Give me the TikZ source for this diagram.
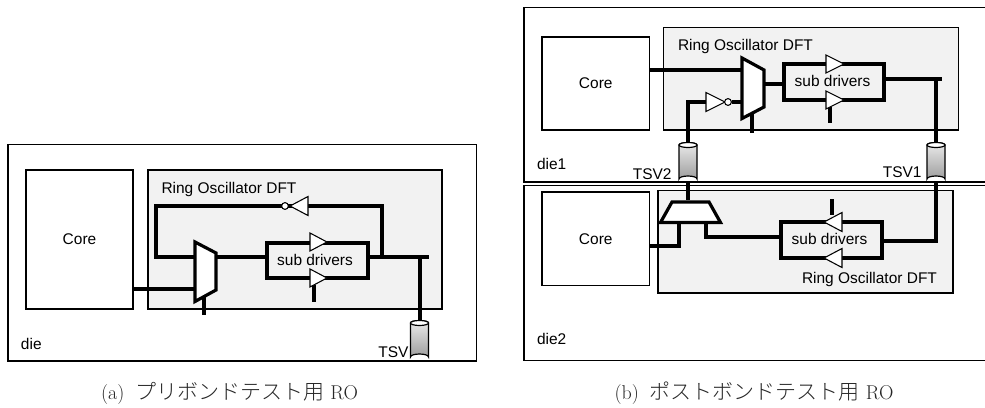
\documentclass[tikz,border=0pt]{standalone}
\usepackage{fontspec}
\setsansfont{Liberation Sans}
\newfontfamily\cjk{Noto Sans CJK JP Light}[Scale=1.05]
\usetikzlibrary{calc}
\definecolor{rofill}{HTML}{F2F2F2}
\tikzset{
  x=0.75pt,y=-0.75pt,
  every node/.style={inner sep=0pt,outer sep=0pt},
  lab/.style={font=\sffamily\fontsize{11.6pt}{13pt}\selectfont,text=black},
  rawbox/.style={draw=black,line width=0.8pt,fill=white},
  robox/.style={draw=black,line width=0.8pt,fill=rofill},
  diebox/.style={draw=black,line width=0.9pt,fill=white},
  wire/.style={line width=3pt,line cap=butt,line join=miter},
  subbox/.style={draw=black,line width=3pt,fill=none},
  gate/.style={draw=black,line width=0.8pt,fill=white,line join=miter},
  muxs/.style={draw=black,line width=2.4pt,fill=white,line join=miter},
  capt/.style={font=\fontsize{15pt}{17pt}\selectfont,text=black!85}
}
% box as a named node from corner coordinates
\newcommand{\boxnode}[7]{\node[#1,anchor=north west,minimum width=#5*0.75pt-#3*0.75pt,minimum height=#6*0.75pt-#4*0.75pt] (#2) at (#3,#4) {#7};}
% triangle: name, tip x, base x, centre y
\newcommand{\tri}[4]{\draw[gate] (#3,#4-9.5) -- (#2,#4) -- (#3,#4+9.5) -- cycle;\coordinate (#1) at (#2,#4);}
% cylinder: name, cx, top y, bottom y
\newcommand{\tsvcyl}[4]{%
  \shade[top color=black!8,bottom color=black!38,draw=black,line width=0.9pt]
   (#2-9,#3+2) -- (#2-9,#4-3) arc[start angle=180,end angle=360,x radius=9,y radius=3] -- (#2+9,#3+2) arc[start angle=0,end angle=-180,x radius=9,y radius=2.5] -- cycle;
  \draw[line width=0.9pt,fill=white] (#2,#3+2) ellipse[x radius=9,y radius=2.5];
  \coordinate (#1top) at (#2,#3);\coordinate (#1bot) at (#2,#4);}
\begin{document}
\begin{tikzpicture}
\useasboundingbox (0,0) rectangle (985,407);
%%%% (a)
\boxnode{diebox}{dieA}{8}{144.5}{476.5}{361}{}
\boxnode{rawbox}{coreA}{26}{170}{133}{309}{\sffamily\fontsize{11.6pt}{13pt}\selectfont Core}
\boxnode{robox}{roA}{148}{170}{442}{309}{}
\node[lab,anchor=west] (roAlab) at (161.5,189) {Ring Oscillator DFT};
\node[lab,anchor=west] (dieAlab) at (21,343.5) {die};
\node[lab,anchor=east] (tsvAlab) at (408.5,352) {TSV};
\coordinate (jA) at (382,257);
\coordinate (kA) at (419.5,257);
\coordinate (endA) at (429,257);
\coordinate (muxAin) at (195,257);
\coordinate (muxAout) at (216,257);
\coordinate (muxAsel) at (204,315);
\boxnode{subbox}{subA}{267}{243}{368}{278}{}
\node[lab] (subAlab) at (315,260) {sub drivers};
\draw[wire] (muxAin) -- (156,257) -- (156,206) -- (382,206) -- (jA);
\draw[wire] (coreA.east |- 0,289) -- (195,289);
\draw[wire] (muxAout) -- (subA.west |- muxAout);
\draw[wire] (subA.east |- endA) -- (endA);
\tsvcyl{tsvA}{419.5}{321}{360}
\draw[wire] (kA) -- (tsvAtop);
\draw[wire] (204,295) -- (muxAsel);
\draw[wire] (314,285) -- (314,302);
\draw[muxs] (195,242) -- (216,253) -- (216,290) -- (195,301.5) -- cycle;
\draw[gate] (327,242) -- (310,233) -- (310,251) -- cycle;
\draw[gate] (327,278) -- (310,269) -- (310,287) -- cycle;
\tri{invAtip}{290}{308}{206}
\draw[gate,fill=white] (285,206) circle[radius=3.4];
\node[capt] (captA) at (229.5,393) {(a)\hspace{0.55em}{\cjk プリボンドテスト用}\hspace{0.3em}RO};
%%%% (b) die1
\boxnode{diebox}{dieB}{524}{7.5}{990}{182}{}
\boxnode{rawbox}{coreB}{542}{37}{649.5}{130}{\sffamily\fontsize{11.6pt}{13pt}\selectfont Core}
\boxnode{robox}{roB}{663.5}{27.5}{958.5}{130}{}
\node[lab,anchor=west] (roBlab) at (678,47) {Ring Oscillator DFT};
\node[lab,anchor=west] (dieBlab) at (537,164) {die1};
\node[lab,anchor=east] (tsv2lab) at (671.5,174.5) {TSV2};
\node[lab,anchor=east] (tsv1lab) at (921.5,172) {TSV1};
\boxnode{subbox}{subB}{783.5}{64}{884}{99.5}{}
\node[lab] (subBlab) at (832.5,81) {sub drivers};
\tsvcyl{tsvC}{688}{143}{182}
\tsvcyl{tsvD}{936}{143}{182}
\draw[wire] (coreB.east |- 0,70) -- (742,70);
\draw[wire] (764,84) -- (subB.west |- 0,84);
\draw[wire] (subB.east |- 0,79) -- (942,79);
\draw[wire] (936,79) -- (tsvDtop);
\draw[wire] (tsvCtop) -- (688,102) -- (706,102);
\draw[wire] (732,102) -- (742,102);
\draw[wire] (752,112) -- (752,133);
\draw[wire] (830,107) -- (830,122.5);
\draw[muxs] (742,58) -- (764,70) -- (764,107) -- (742,118.5) -- cycle;
\draw[gate] (844,64) -- (826,55) -- (826,73) -- cycle;
\draw[gate] (844,100) -- (826,91) -- (826,109) -- cycle;
\tri{invBtip}{725}{706}{102}
\draw[gate,fill=white] (728,102) circle[radius=3.4];
%%%% (b) die2
\boxnode{diebox}{dieC}{524}{185.5}{990}{360.5}{}
\boxnode{rawbox}{coreC}{542}{192}{649.5}{285.5}{\sffamily\fontsize{11.6pt}{13pt}\selectfont Core}
\boxnode{robox}{roC}{658}{190.5}{953}{293}{}
\node[lab,anchor=west] (roClab) at (802,279) {Ring Oscillator DFT};
\node[lab,anchor=west] (dieClab) at (537,339) {die2};
\boxnode{subbox}{subC}{780.5}{222}{881.5}{258}{}
\node[lab] (subClab) at (829.5,238.5) {sub drivers};
\draw[wire] (tsvCbot) -- (688,200);
\draw[wire] (tsvDbot) -- (936,241) -- (subC.east |- 0,241);
\draw[wire] (subC.west |- 0,236.5) -- (706,236.5) -- (706,222);
\draw[wire] (coreC.east |- 0,246) -- (679,246) -- (679,222);
\draw[wire] (832,199) -- (832,215);
\draw[muxs] (672,202) -- (709,202) -- (720.5,222.5) -- (660.5,222.5) -- cycle;
\tri{bufCa}{824}{842}{222}
\tri{bufCb}{824}{842}{258}
\node[capt] (captB) at (754,393) {(b)\hspace{0.55em}{\cjk ポストボンドテスト用}\hspace{0.3em}RO};
\end{tikzpicture}
\end{document}
